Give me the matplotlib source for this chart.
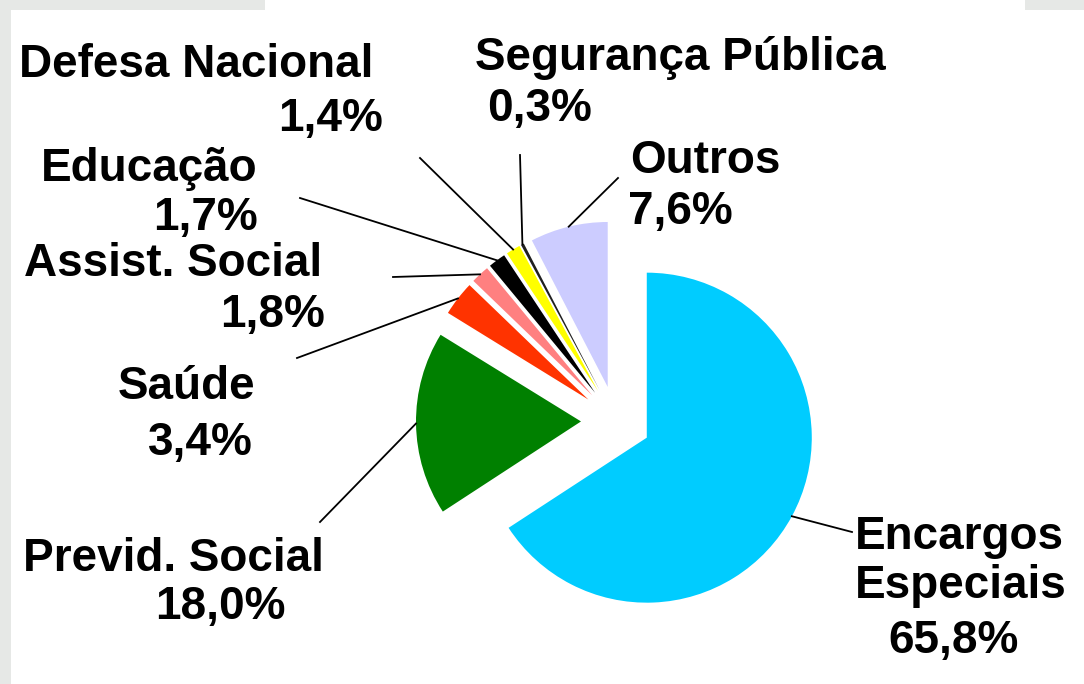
import matplotlib
matplotlib.use("Agg")
import matplotlib.pyplot as plt
import numpy as np
from matplotlib.patches import Rectangle

# ---- data ----
categories = ["Encargos\nEspeciais", "Previd. Social", "Saúde", "Assist. Social",
              "Educação", "Defesa Nacional", "Segurança Pública", "Outros"]
values = [65.8, 18.0, 3.4, 1.8, 1.7, 1.4, 0.3, 7.6]
colors = ["#00CCFF", "#008000", "#FF3300", "#FF8080",
          "#000000", "#FFFF00", "#202020", "#CCCCFF"]

# ---- layout (pixel coords of the 1084x684 canvas, y measured from top) ----
W, H = 1084, 684
center_img = (616, 421)
radius = 165
explode_px = 35
# per label: list of (x, baseline_y, ha) for each text line
line_anchor = [
    [(855, 549, "left"), (855, 598, "left"), (888, 653, "left")],
    [(23, 571, "left"), (155, 619, "left")],
    [(255, 399, "right"), (253, 455, "right")],
    [(322, 276, "right"), (325, 327, "right")],
    [(258, 181, "right"), (258, 230, "right")],
    [(373, 77, "right"), (383, 131, "right")],
    [(475, 70, "left"), (487, 121, "left")],
    [(630, 173, "left"), (628, 224, "left")],
]
# where each leader line leaves the label block
leader_start = [(852, 532), (320, 522), (297, 358), (393, 277),
                (300, 198), (420, 158), (520, 155), (618, 178)]

fig = plt.figure(figsize=(W / 100, H / 100), dpi=100)
fig.patch.set_facecolor("white")
ax = fig.add_axes([0, 0, 1, 1])
ax.set_xlim(0, W)
ax.set_ylim(0, H)
ax.set_aspect("equal")
ax.axis("off")

# faint textured border of the original slide background
for (x0, y0, w, h) in [(0, 0, 11, H), (0, H - 10, 265, 10), (1025, H - 10, 59, 10)]:
    ax.add_patch(Rectangle((x0, y0), w, h, facecolor="#e6e8e6", edgecolor="none", zorder=0))

cx, cy = center_img[0], H - center_img[1]
wedges, _ = ax.pie(values, colors=colors, startangle=90, counterclock=False,
                   radius=radius, center=(cx, cy),
                   explode=[explode_px] * len(values),
                   wedgeprops=dict(linewidth=0), frame=True)
ax.set_xlim(0, W)
ax.set_ylim(0, H)
ax.axis("off")

font = dict(family=["Liberation Sans", "DejaVu Sans"], fontsize=33, fontweight="bold",
            color="black")

for i, (name, v) in enumerate(zip(categories, values)):
    lines = name.split("\n") + [f"{v:.1f}".replace(".", ",") + "%"]
    for text, (x, yb, ha) in zip(lines, line_anchor[i]):
        ax.text(x, H - yb, text, ha=ha, va="baseline", zorder=5, **font)
    # leader line from label to the outer edge of the wedge at its mid angle
    wdg = wedges[i]
    th = np.deg2rad((wdg.theta1 + wdg.theta2) / 2)
    wx, wy = wdg.center
    ex = wx + wdg.r * np.cos(th)
    ey = wy + wdg.r * np.sin(th)
    sx, sy = leader_start[i]
    ax.plot([sx, ex], [H - sy, ey], color="black", lw=1.3, zorder=4)

fig.savefig("out.png", dpi=100, facecolor=fig.get_facecolor())
